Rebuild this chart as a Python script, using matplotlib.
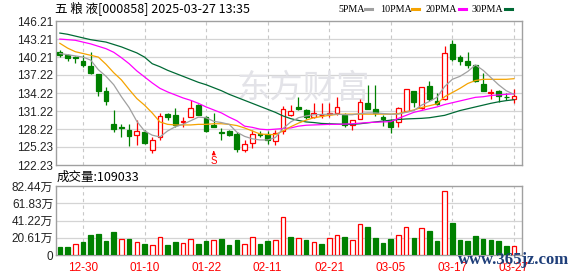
import matplotlib
matplotlib.use('Agg')
import matplotlib.pyplot as plt
from matplotlib.lines import Line2D
import numpy as np

plt.rcParams['font.family'] = ['Liberation Sans', 'Noto Sans CJK SC', 'DejaVu Sans']

title_text = '五 粮 液[000858] 2025-03-27 13:35'
vol_title = '成交量:109033'

date_labels = ['12-30', '01-10', '01-22', '02-11', '02-21', '03-05', '03-17', '03-27']
date_index = [3, 11, 19, 27, 35, 43, 51, 59]

price_ticks = [122.23, 125.23, 128.22, 131.22, 134.22, 137.22, 140.21, 143.21, 146.21]
vol_ticks = [0, 20.61, 41.22, 61.83, 82.44]
vol_tick_labels = ['0', '20.61万', '41.22万', '61.83万', '82.44万']

legend_names = ['5PMA', '10PMA', '20PMA', '30PMA']

opens = [140.97, 140.52, 140.19, 139.63, 138.68, 137.40, 134.61, 129.14, 128.59, 128.14,
         127.25, 127.69, 124.79, 126.91, 130.71, 130.59, 129.37, 130.26, 132.16, 130.26,
         128.92, 127.69, 127.81, 127.47, 124.79, 125.91, 127.36, 127.36, 126.24, 127.81,
         130.59, 131.93, 131.38, 130.26, 130.48, 130.71, 130.93, 130.59, 128.92, 129.93,
         132.60, 131.60, 130.15, 129.59, 129.37, 131.26, 134.50, 131.71, 135.39, 132.83,
         133.16, 142.42, 140.19, 139.63, 138.85, 135.73, 134.16, 134.50, 133.61, 133.16]
closes = [140.63, 140.08, 139.97, 138.85, 137.62, 134.50, 132.94, 128.25, 128.36, 127.03,
          127.81, 125.91, 126.47, 130.37, 130.26, 128.92, 129.59, 131.71, 130.59, 127.81,
          128.59, 127.58, 127.25, 124.91, 125.80, 127.36, 127.25, 126.36, 127.58, 131.49,
          131.15, 131.60, 130.15, 130.93, 130.59, 130.93, 131.82, 128.81, 129.70, 132.71,
          131.60, 130.82, 129.93, 128.59, 131.71, 134.83, 132.71, 135.17, 133.27, 132.38,
          140.86, 139.96, 139.63, 138.96, 136.17, 134.61, 134.39, 133.72, 133.49, 133.72]
highs = [141.41, 140.74, 140.30, 140.63, 141.08, 137.40, 135.28, 131.38, 129.14, 129.03,
         129.70, 128.14, 126.91, 130.82, 130.93, 131.71, 130.15, 133.05, 132.38, 130.37,
         130.82, 128.36, 127.98, 127.69, 126.36, 128.03, 127.81, 127.81, 128.03, 132.04,
         132.16, 133.49, 131.60, 132.60, 132.60, 132.60, 133.49, 130.93, 129.70, 133.16,
         135.61, 135.61, 130.48, 129.81, 131.93, 134.94, 134.61, 135.17, 136.28, 134.28,
         142.08, 143.09, 140.63, 140.97, 138.96, 137.62, 134.83, 134.72, 134.16, 134.83]
lows = [140.19, 139.52, 139.18, 138.51, 137.40, 133.72, 132.27, 127.69, 126.91, 125.46,
        125.58, 125.80, 124.24, 126.36, 129.70, 128.59, 128.59, 130.15, 130.48, 127.69,
        128.48, 126.36, 127.14, 124.46, 124.46, 125.02, 126.81, 125.69, 125.58, 127.47,
        130.37, 131.38, 129.92, 130.04, 130.04, 130.15, 130.59, 128.59, 128.14, 129.81,
        131.49, 130.37, 128.70, 127.58, 128.59, 131.04, 131.82, 131.49, 132.94, 132.16,
        133.05, 139.52, 138.85, 138.40, 136.06, 134.50, 133.16, 132.71, 133.05, 132.60]

# volume in 万手, colour flag (1 = red hollow, 0 = green)
volumes = [9.5, 9.5, 12.7, 15.5, 23.8, 25.0, 17.0, 27.3, 18.6, 18.6,
           15.1, 13.1, 11.5, 21.8, 11.9, 15.5, 13.9, 18.6, 12.7, 16.6,
           17.4, 19.0, 11.9, 17.8, 12.7, 21.8, 12.7, 16.6, 17.8, 45.6,
           21.0, 19.8, 17.8, 15.1, 13.1, 19.8, 23.4, 21.0, 17.8, 36.5,
           33.3, 20.2, 14.3, 19.0, 23.4, 32.9, 20.2, 31.7, 28.5, 16.6,
           76.1, 38.0, 17.8, 16.6, 22.2, 19.0, 17.8, 16.6, 10.7, 10.9]
volume_up = [0, 0, 1, 0, 0, 0, 0, 0, 1, 0,
             1, 0, 1, 1, 0, 0, 1, 1, 0, 0,
             1, 0, 0, 0, 1, 1, 0, 0, 1, 1,
             0, 1, 0, 1, 0, 1, 1, 0, 1, 1,
             0, 0, 0, 0, 1, 1, 0, 1, 0, 0,
             1, 0, 0, 0, 0, 0, 0, 0, 0, 1]

ma5 = [140.8, 140.6, 140.4, 140.2, 139.7, 138.1, 137.0, 135.6, 133.6, 131.8,
       129.5, 127.9, 127.2, 126.9, 127.9, 128.6, 129.0, 129.6, 130.2, 130.1,
       129.5, 129.3, 129.0, 127.7, 127.0, 126.6, 126.4, 126.4, 126.8, 128.3,
       129.4, 130.1, 130.4, 130.6, 130.65, 130.7, 130.7, 130.6, 130.6, 130.8,
       130.9, 130.9, 130.8, 130.7, 130.7, 131.0, 131.3, 132.2, 132.8, 133.5,
       135.3, 136.5, 137.0, 137.8, 138.9, 138.0, 136.8, 135.6, 134.6, 134.0]
ma10 = [142.5, 141.7, 141.1, 140.8, 140.5, 140.2, 139.0, 137.6, 136.4, 134.8,
        133.3, 132.2, 130.9, 129.4, 129.0, 128.9, 128.9, 128.9, 129.0, 129.0,
        129.1, 129.1, 129.0, 128.8, 128.4, 127.9, 127.4, 127.3, 127.3, 127.9,
        128.6, 129.2, 129.7, 130.1, 130.3, 130.5, 130.65, 130.7, 130.7, 130.7,
        130.7, 130.7, 130.7, 130.7, 130.8, 131.1, 131.4, 131.8, 132.1, 132.4,
        133.6, 134.3, 135.0, 135.8, 136.3, 136.5, 136.5, 136.5, 136.5, 136.6]
ma20 = [143.2, 143.1, 143.0, 142.7, 142.4, 142.0, 141.6, 141.0, 140.1, 139.1,
        137.9, 136.9, 135.9, 135.0, 134.4, 133.9, 133.4, 133.0, 132.5, 131.9,
        131.4, 130.9, 130.2, 129.6, 128.7, 128.5, 128.2, 128.1, 128.2, 128.3,
        128.4, 128.7, 128.85, 128.9, 128.95, 129.0, 129.0, 129.05, 129.1, 129.2,
        129.3, 129.35, 129.4, 129.45, 130.0, 130.5, 131.0, 131.3, 131.6, 131.9,
        132.3, 132.6, 132.9, 133.2, 133.5, 133.6, 133.8, 133.9, 134.0, 134.1]
ma30 = [144.2, 144.0, 143.7, 143.4, 143.1, 142.9, 142.7, 142.3, 141.9, 141.4,
        140.9, 140.2, 139.1, 138.6, 138.0, 137.5, 137.0, 136.5, 136.0, 135.6,
        135.1, 134.6, 134.0, 133.5, 133.0, 132.5, 132.0, 131.5, 131.0, 130.4,
        129.95, 129.65, 129.4, 129.3, 129.15, 129.1, 129.05, 129.0, 129.0, 129.1,
        129.25, 129.4, 129.55, 129.7, 129.8, 129.9, 129.95, 130.0, 130.1, 130.3,
        130.5, 130.9, 131.3, 131.6, 131.9, 132.2, 132.5, 132.75, 132.95, 133.1]

RED = '#ff0000'
GREEN = '#008000'
GRID = '#d4d4d4'
FRAME = '#a0a0a0'
MA_COLORS = ['#a0a0a0', '#f5a300', '#ff00ff', '#006a35']


def style_panel(ax):
    for side in ax.spines.values():
        side.set_color(FRAME)
        side.set_linewidth(1.0)
    ax.tick_params(axis='both', length=0, labelsize=8.5, colors='#222222', pad=2)
    ax.set_xlim(-0.5, 60.05)
    for i in date_index:
        ax.axvline(i, color='#c8c8c8', lw=0.8, ls=(0, (3, 3)), zorder=0)


def draw_candles(ax):
    x = np.arange(len(opens))
    o, c = np.array(opens), np.array(closes)
    h, l = np.array(highs), np.array(lows)
    up = c >= o
    top = np.maximum(o, c)
    bot = np.minimum(o, c)
    body = np.maximum(top - bot, 0.06)

    # wicks: above and below the body so hollow candles stay hollow
    for xs, is_up, hi, lo, t, b in zip(x, up, h, l, top, bot):
        col = RED if is_up else GREEN
        ax.vlines(xs, t, hi, color=col, lw=0.9, zorder=2)
        ax.vlines(xs, lo, b, color=col, lw=0.9, zorder=2)

    ax.bar(x[up], body[up], bottom=bot[up], width=0.62, facecolor='white',
           edgecolor=RED, linewidth=0.9, zorder=3)
    ax.bar(x[~up], body[~up], bottom=bot[~up], width=0.62, facecolor=GREEN,
           edgecolor=GREEN, linewidth=0.9, zorder=3)


def plot_chart():
    fig = plt.figure(figsize=(5.78, 2.76), dpi=100)
    W, H = 578.0, 276.0

    ax = fig.add_axes([56 / W, 1 - 165 / H, 466 / W, 144 / H])
    axv = fig.add_axes([56 / W, 1 - 255 / H, 466 / W, 69 / H])

    # price panel
    style_panel(ax)
    ax.set_ylim(122.23, 146.21)
    ax.set_yticks(price_ticks)
    ax.set_yticklabels([f'{v:.2f}' for v in price_ticks])
    ax.set_xticks([])
    for v in price_ticks[1:-1]:
        ax.axhline(v, color=GRID, lw=0.9, zorder=0)

    # faint site watermark behind the candles
    ax.text(0.53, 0.53, '东方财富', transform=ax.transAxes, fontsize=24,
            color='#e3e3e8', ha='center', va='center', zorder=0,
            family=['Noto Sans CJK SC'])

    draw_candles(ax)

    x = np.arange(len(ma5))
    for series, col in zip([ma30, ma20, ma10, ma5], MA_COLORS[::-1]):
        ax.plot(x, series, color=col, lw=0.9, zorder=4)

    # sell marker
    ax.annotate('', xy=(20, 124.6), xytext=(20, 123.9),
                arrowprops=dict(arrowstyle='-|>', color=RED, lw=0.8, mutation_scale=5))
    ax.text(20, 122.95, 'S', color=RED, fontsize=7, ha='center', va='center')

    # volume panel
    style_panel(axv)
    axv.set_ylim(0, 82.44)
    axv.set_yticks(vol_ticks)
    axv.set_yticklabels(vol_tick_labels)
    for v in vol_ticks[1:-1]:
        axv.axhline(v, color=GRID, lw=0.9, zorder=0)
    xv = np.arange(len(volumes))
    vol = np.array(volumes)
    vup = np.array(volume_up) == 1
    axv.bar(xv[vup], vol[vup], width=0.6, facecolor='white', edgecolor=RED,
            linewidth=0.9, zorder=3)
    axv.bar(xv[~vup], vol[~vup], width=0.6, facecolor=GREEN, edgecolor=GREEN,
            linewidth=0.9, zorder=3)
    axv.set_xticks(date_index)
    axv.set_xticklabels(date_labels, color=RED, fontsize=8.5)
    axv.tick_params(axis='x', pad=5)

    # titles
    fig.text(55 / W, 1 - 9 / H, title_text, fontsize=9, va='center', ha='left',
             family=['Noto Sans CJK SC', 'DejaVu Sans'])
    fig.text(57 / W, 1 - 177 / H, vol_title, fontsize=9, va='center', ha='left',
             family=['Noto Sans CJK SC', 'DejaVu Sans'])

    # legend: label then a short colour dash
    label_x = [338, 380, 426, 471]
    dash_x = [365, 412, 459, 505]
    for name, col, lx, dx in zip(legend_names, MA_COLORS, label_x, dash_x):
        fig.text(lx / W, 1 - 9 / H, name, fontsize=7.2, va='center', ha='left',
                 family='Liberation Serif')
        fig.add_artist(Line2D([dx / W, (dx + 7) / W], [1 - 9 / H, 1 - 9 / H],
                              color=col, lw=2.2, transform=fig.transFigure))

    fig.text(514 / W, 1 - 260 / H, 'www.365jz.com', fontsize=12, ha='center',
             va='center', color='#1f3f7a', family='Liberation Serif',
             fontweight='bold')

    fig.savefig('out.png', dpi=100)


if __name__ == '__main__':
    plot_chart()
